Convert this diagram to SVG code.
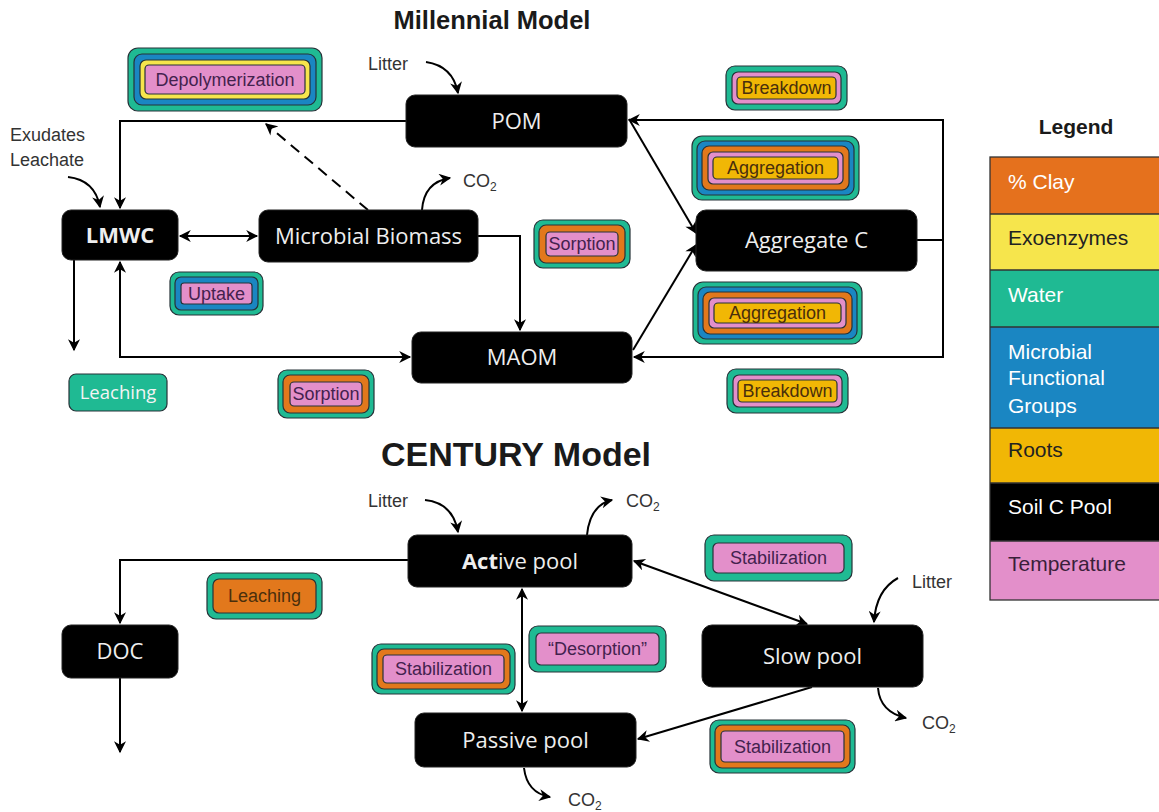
<svg xmlns="http://www.w3.org/2000/svg" width="1159" height="812" viewBox="0 0 1159 812">
<defs>
<marker id="ah" viewBox="0 0 10 10" refX="9" refY="5" markerWidth="13" markerHeight="12" markerUnits="userSpaceOnUse" orient="auto-start-reverse">
<path d="M0,0 L10,5 L0,10 L3,5 z" fill="#000"/>
</marker>
<style>
.node rect{fill:#000;stroke:#222;stroke-width:1}
.node text{font-family:"Open Sans","DejaVu Sans",sans-serif;font-size:22px;fill:#eeeeee;text-anchor:middle}
.lay{stroke:#263238;stroke-width:1.2}
.t{fill:#1fba93}.b{fill:#1a86c2}.o{fill:#e2781c}.y{fill:#f6e54c}.p{fill:#e38fca}.g{fill:#f1b705}
.bl{font-family:"Liberation Sans",Arial,sans-serif;font-size:18px;text-anchor:middle;fill:#43224e}
.bl.dk{fill:#4a2f0c}
.ann{font-family:"Liberation Sans",Arial,sans-serif;font-size:18px;fill:#333}
.sub{font-size:12px}
.ln{fill:none;stroke:#000;stroke-width:2}
.title{font-family:"Liberation Sans",Arial,sans-serif;font-weight:bold;fill:#1a1a1a;text-anchor:middle}
.lg{font-family:"Liberation Sans",Arial,sans-serif;font-size:21px}
</style>
</defs>
<rect width="1159" height="812" fill="#fff"/>

<text class="title" x="492" y="29" font-size="25.5">Millennial Model</text>
<text class="title" x="516" y="466" font-size="34">CENTURY Model</text>

<!-- connectors -->
<g id="connectors">
<path class="ln" d="M406,121 H120 V208" marker-end="url(#ah)"/>
<path class="ln" d="M68,177 Q95,180 100,207" marker-end="url(#ah)"/>
<path class="ln" d="M368,210 L266,124" stroke-dasharray="11,7" marker-end="url(#ah)"/>
<path class="ln" d="M180,236 H257" marker-start="url(#ah)" marker-end="url(#ah)"/>
<path class="ln" d="M422,210 Q424,182 450,178" marker-end="url(#ah)"/>
<path class="ln" d="M426,62 Q453,66 458,93" marker-end="url(#ah)"/>
<path class="ln" d="M478,236 H520 V330" marker-end="url(#ah)"/>
<path class="ln" d="M74,260 V350" marker-end="url(#ah)"/>
<path class="ln" d="M120,262 V357 H410" marker-start="url(#ah)" marker-end="url(#ah)"/>
<path class="ln" d="M629,120 H943 V357 H634" marker-start="url(#ah)" marker-end="url(#ah)"/>
<path class="ln" d="M917,240 H943"/>
<path class="ln" d="M629,119 L696,233" marker-end="url(#ah)"/>
<path class="ln" d="M633,350 L696,245" marker-end="url(#ah)"/>

<path class="ln" d="M425,500 Q453,503 458,532" marker-end="url(#ah)"/>
<path class="ln" d="M587,535 Q590,505 612,500" marker-end="url(#ah)"/>
<path class="ln" d="M408,560 H120 V623" marker-end="url(#ah)"/>
<path class="ln" d="M120,678 V752" marker-end="url(#ah)"/>
<path class="ln" d="M522,589 V711" marker-start="url(#ah)" marker-end="url(#ah)"/>
<path class="ln" d="M634,561 L807,624" marker-start="url(#ah)" marker-end="url(#ah)"/>
<path class="ln" d="M812,687 L638,739" marker-end="url(#ah)"/>
<path class="ln" d="M898,578 Q876,590 874,622" marker-end="url(#ah)"/>
<path class="ln" d="M878,688 Q880,712 906,718" marker-end="url(#ah)"/>
<path class="ln" d="M524,768 Q527,793 550,797" marker-end="url(#ah)"/>
</g>

<!-- annotations -->
<g id="annotations">
<text class="ann" x="10" y="141">Exudates</text>
<text class="ann" x="10" y="166">Leachate</text>
<text class="ann" x="368" y="70">Litter</text>
<text class="ann" x="463" y="187">CO<tspan class="sub" dy="4">2</tspan></text>
<text class="ann" x="368" y="507">Litter</text>
<text class="ann" x="626" y="507">CO<tspan class="sub" dy="4">2</tspan></text>
<text class="ann" x="912" y="588">Litter</text>
<text class="ann" x="922" y="729">CO<tspan class="sub" dy="4">2</tspan></text>
<text class="ann" x="568" y="806">CO<tspan class="sub" dy="4">2</tspan></text>
</g>

<!-- Millennial nodes -->
<g id="pom" class="node"><rect x="406" y="95" width="221" height="52" rx="9"/><text x="516.5" y="129">POM</text></g>
<g id="lmwc" class="node"><rect x="62" y="210" width="116" height="50" rx="9"/><text x="120" y="243" font-weight="bold" font-size="21">LMWC</text></g>
<g id="microbial-biomass" class="node"><rect x="259" y="210" width="219" height="52" rx="9"/><text x="368.5" y="244">Microbial Biomass</text></g>
<g id="aggregate-c" class="node"><rect x="696" y="210" width="221" height="61" rx="10"/><text x="806.5" y="248">Aggregate C</text></g>
<g id="maom" class="node"><rect x="412" y="332" width="220" height="51" rx="9"/><text x="522" y="365">MAOM</text></g>

<!-- Millennial process labels -->
<g id="depolymerization">
<rect class="lay t" x="128" y="48" width="194" height="63" rx="10"/>
<rect class="lay b" x="134" y="54" width="182" height="51" rx="8"/>
<rect class="lay y" x="140" y="60" width="170" height="39" rx="6"/>
<rect class="lay p" x="145" y="65" width="160" height="29" rx="4"/>
<text class="bl" x="225" y="86">Depolymerization</text>
</g>
<g id="breakdown-top">
<rect class="lay t" x="726" y="66" width="121" height="44" rx="9"/>
<rect class="lay p" x="732" y="72" width="109" height="32" rx="6"/>
<rect class="lay g" x="737" y="77" width="99" height="22" rx="4"/>
<text class="bl dk" x="786.5" y="94" font-size="17">Breakdown</text>
</g>
<g id="aggregation-top">
<rect class="lay t" x="692" y="136" width="167" height="64" rx="10"/>
<rect class="lay b" x="697" y="141" width="157" height="54" rx="8"/>
<rect class="lay o" x="702" y="146" width="147" height="44" rx="7"/>
<rect class="lay p" x="708" y="152" width="135" height="32" rx="5"/>
<rect class="lay g" x="713" y="157" width="125" height="22" rx="4"/>
<text class="bl dk" x="775.5" y="174">Aggregation</text>
</g>
<g id="aggregation-bottom">
<rect class="lay t" x="693" y="282" width="169" height="62" rx="10"/>
<rect class="lay b" x="698" y="287" width="159" height="52" rx="8"/>
<rect class="lay o" x="703" y="292" width="149" height="42" rx="7"/>
<rect class="lay p" x="709" y="298" width="137" height="30" rx="5"/>
<rect class="lay g" x="714" y="303" width="127" height="20" rx="4"/>
<text class="bl dk" x="777.5" y="319">Aggregation</text>
</g>
<g id="breakdown-bottom">
<rect class="lay t" x="727" y="369" width="121" height="44" rx="9"/>
<rect class="lay p" x="733" y="375" width="109" height="32" rx="6"/>
<rect class="lay g" x="738" y="380" width="99" height="22" rx="4"/>
<text class="bl dk" x="787.5" y="397" font-size="17">Breakdown</text>
</g>
<g id="sorption-right">
<rect class="lay t" x="534" y="220" width="96" height="48" rx="9"/>
<rect class="lay o" x="539" y="225" width="86" height="38" rx="7"/>
<rect class="lay p" x="546" y="232" width="72" height="24" rx="4"/>
<text class="bl" x="582" y="250" font-size="17">Sorption</text>
</g>
<g id="uptake">
<rect class="lay t" x="170" y="272" width="93" height="43" rx="9"/>
<rect class="lay b" x="175" y="277" width="83" height="33" rx="6"/>
<rect class="lay p" x="181" y="283" width="71" height="21" rx="3"/>
<text class="bl" x="216.5" y="300" font-size="17">Uptake</text>
</g>
<g id="leaching-millennial">
<rect class="lay t" x="69" y="374" width="98" height="37" rx="7"/>
<text x="118" y="399" font-family="'Open Sans','DejaVu Sans',sans-serif" font-size="18.5" fill="#f4f4f4" text-anchor="middle">Leaching</text>
</g>
<g id="sorption-bottom">
<rect class="lay t" x="278" y="370" width="96" height="48" rx="9"/>
<rect class="lay o" x="283" y="375" width="86" height="38" rx="7"/>
<rect class="lay p" x="290" y="382" width="72" height="24" rx="4"/>
<text class="bl" x="326" y="400" font-size="17">Sorption</text>
</g>

<!-- CENTURY nodes -->
<g id="active-pool" class="node"><rect x="408" y="535" width="224" height="52" rx="9"/><text x="520" y="569"><tspan font-weight="bold">Act</tspan>ive pool</text></g>
<g id="doc" class="node"><rect x="62" y="625" width="116" height="53" rx="9"/><text x="120" y="659">DOC</text></g>
<g id="slow-pool" class="node"><rect x="702" y="625" width="221" height="62" rx="10"/><text x="812.5" y="664">Slow pool</text></g>
<g id="passive-pool" class="node"><rect x="415" y="713" width="221" height="54" rx="9"/><text x="525.5" y="748">Passive pool</text></g>

<!-- CENTURY process labels -->
<g id="leaching-century">
<rect class="lay t" x="207" y="573" width="115" height="46" rx="9"/>
<rect class="lay o" x="213" y="579" width="103" height="34" rx="6"/>
<text class="bl dk" x="264.5" y="602">Leaching</text>
</g>
<g id="stabilization-top">
<rect class="lay t" x="705" y="535" width="147" height="46" rx="9"/>
<rect class="lay p" x="713" y="543" width="131" height="30" rx="5"/>
<text class="bl" x="778.5" y="564">Stabilization</text>
</g>
<g id="desorption">
<rect class="lay t" x="529" y="626" width="137" height="46" rx="9"/>
<rect class="lay p" x="536" y="633" width="123" height="32" rx="5"/>
<text class="bl" x="597.5" y="655">“Desorption”</text>
</g>
<g id="stabilization-left">
<rect class="lay t" x="372" y="644" width="143" height="50" rx="9"/>
<rect class="lay o" x="377" y="649" width="133" height="40" rx="7"/>
<rect class="lay p" x="383" y="655" width="121" height="28" rx="4"/>
<text class="bl" x="443.5" y="675">Stabilization</text>
</g>
<g id="stabilization-bottom">
<rect class="lay t" x="710" y="720" width="145" height="53" rx="9"/>
<rect class="lay o" x="715" y="725" width="135" height="43" rx="7"/>
<rect class="lay p" x="721" y="731" width="123" height="31" rx="4"/>
<text class="bl" x="782.5" y="753">Stabilization</text>
</g>

<!-- Legend -->
<g id="legend">
<text class="title" x="1076" y="134" font-size="21">Legend</text>
<rect x="990" y="157" width="175" height="57" fill="#e5711d"/>
<rect x="990" y="214" width="175" height="56" fill="#f6e54c"/>
<rect x="990" y="270" width="175" height="57" fill="#1fba93"/>
<rect x="990" y="327" width="175" height="101" fill="#1a86c2"/>
<rect x="990" y="428" width="175" height="55" fill="#f1b705"/>
<rect x="990" y="483" width="175" height="58" fill="#000"/>
<rect x="990" y="541" width="175" height="59" fill="#e38fca"/>
<g fill="none" stroke="#333" stroke-width="1.3">
<rect x="990" y="157" width="175" height="443"/>
<path d="M990,214 H1159 M990,270 H1159 M990,327 H1159 M990,428 H1159 M990,483 H1159 M990,541 H1159"/>
</g>
<g class="lg">
<text x="1008" y="189" fill="#fff">% Clay</text>
<text x="1008" y="245" fill="#222">Exoenzymes</text>
<text x="1008" y="302" fill="#fff">Water</text>
<text x="1008" y="359" fill="#fff">Microbial</text>
<text x="1008" y="385" fill="#fff">Functional</text>
<text x="1008" y="413" fill="#fff">Groups</text>
<text x="1008" y="457" fill="#222">Roots</text>
<text x="1008" y="514" fill="#fff">Soil C Pool</text>
<text x="1008" y="571" fill="#3a1f3a">Temperature</text>
</g>
</g>
</svg>
